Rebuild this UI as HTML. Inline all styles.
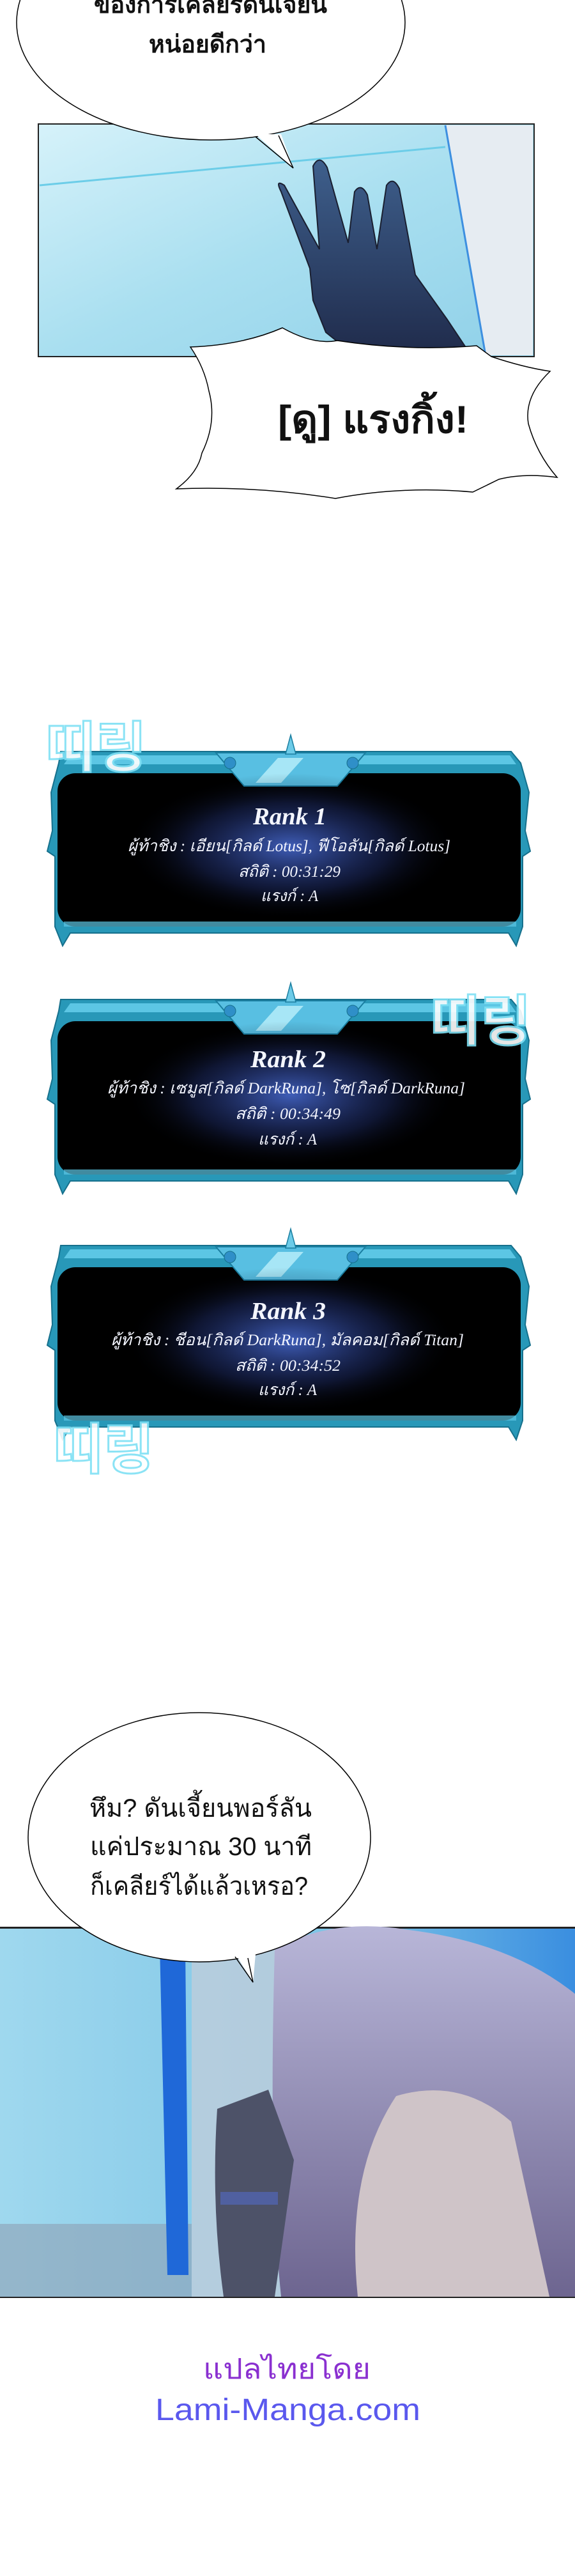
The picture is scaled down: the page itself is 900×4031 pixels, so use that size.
<!DOCTYPE html>
<html><head><meta charset="utf-8"><style>
html,body{margin:0;padding:0;background:#fff;}
svg{display:block;}
.th{font-family:"Liberation Sans","Noto Sans CJK SC","WenQuanYi Zen Hei",sans-serif;}
.rk{font-family:"Liberation Serif","Noto Serif CJK SC",serif;font-style:italic;fill:#f4f6ff;}
</style></head><body>
<svg width="900" height="4031" viewBox="0 0 900 4031" xmlns="http://www.w3.org/2000/svg">
<defs>
<linearGradient id="ice" x1="0" y1="0" x2="1" y2="1">
<stop offset="0" stop-color="#d6f2fa"/><stop offset="0.5" stop-color="#a9dff0"/><stop offset="1" stop-color="#8fd0e8"/></linearGradient>
<linearGradient id="hand" x1="0" y1="0" x2="0" y2="1">
<stop offset="0" stop-color="#3e5f8c"/><stop offset="1" stop-color="#1f2a4a"/></linearGradient>
<radialGradient id="glow" cx="0.5" cy="0.5" r="0.5">
<stop offset="0" stop-color="#4a6ed8" stop-opacity="0.85"/><stop offset="0.6" stop-color="#2a3e90" stop-opacity="0.35"/><stop offset="1" stop-color="#000" stop-opacity="0"/></radialGradient>
<linearGradient id="ice2" x1="0" y1="0" x2="1" y2="0">
<stop offset="0" stop-color="#9fd8ee"/><stop offset="0.6" stop-color="#7cc4e6"/><stop offset="1" stop-color="#3a8ee0"/></linearGradient>
<linearGradient id="hair" x1="0" y1="0" x2="0" y2="1">
<stop offset="0" stop-color="#b8b6d8"/><stop offset="1" stop-color="#6d6590"/></linearGradient>
<g id="frame">
<path d="M95,26 L800,26 L815,44 L828,90 L822,150 L830,182 L818,190 L818,300 L808,330 L796,310 L110,310 L98,330 L86,300 L86,190 L74,182 L82,150 L80,90 L92,44 Z" fill="#2898b8" stroke="#16708c" stroke-width="2"/>
<path d="M110,32 L798,32 L808,46 L100,46 Z" fill="#5cc6e4"/>
<rect x="90" y="60" width="725" height="240" rx="28" fill="#000"/>
<path d="M100,292 L808,292 L808,300 L100,300 Z" fill="#5cc6e4" opacity="0.7"/>
<polygon points="338,28 572,28 528,80 382,80" fill="#58bfe2" stroke="#1a7ea0" stroke-width="2"/>
<polygon points="400,75 435,36 475,36 440,75" fill="#a7e6f6"/>
<polygon points="447,30 455,0 463,30" fill="#6ccbe8" stroke="#1a7ea0" stroke-width="1.5"/>
<circle cx="360" cy="44" r="9" fill="#2f8fc8" stroke="#16708c"/>
<circle cx="552" cy="44" r="9" fill="#2f8fc8" stroke="#16708c"/>
<ellipse cx="455" cy="175" rx="260" ry="115" fill="url(#glow)"/>
</g>
</defs>

<!-- top panel image -->
<rect x="60" y="194" width="776" height="364" fill="url(#ice)" stroke="#222" stroke-width="2"/>
<polygon points="697,196 834,196 834,556 760,556" fill="#e6ecf2"/>
<line x1="697" y1="196" x2="760" y2="556" stroke="#3d8fe0" stroke-width="3"/>
<line x1="62" y1="290" x2="697" y2="230" stroke="#6ccde8" stroke-width="3"/>
<path d="M440,300 Q430,280 445,290 L500,390 L490,260 Q500,240 512,262 L545,380 L555,300 Q565,285 575,305 L590,390 L605,290 Q615,275 625,295 L650,430 L700,500 L740,560 L560,560 L510,520 L490,470 L485,420 L440,300 Z" fill="url(#hand)" stroke="#1a1f30" stroke-width="2"/>
<!-- bubble 1 -->
<ellipse cx="330" cy="35" rx="304" ry="184" fill="#fff" stroke="#000" stroke-width="1.5"/>
<polygon points="400,210 459,263 440,210" fill="#fff"/>
<path d="M400,214 L459,263 L436,212" fill="none" stroke="#000" stroke-width="1.5"/>
<text class="th" x="147" y="20" font-size="38" font-weight="bold" textLength="365" lengthAdjust="spacingAndGlyphs" fill="#111">ของการเคลียร์ดันเจี้ยน</text>
<text class="th" x="233" y="82" font-size="38" font-weight="bold" textLength="184" lengthAdjust="spacingAndGlyphs" fill="#111">หน่อยดีกว่า</text>
<!-- spiky bubble -->
<path d="M298,543 Q380,540 442,513 Q490,540 528,533 Q640,550 746,541 L769,558 Q820,575 861,581 Q820,620 827,663 Q840,710 872,747 Q820,740 781,750 L740,770 Q630,760 525,780 Q400,760 276,765 Q310,740 316,709 Q340,660 327,612 Q320,575 298,543 Z" fill="#fff" stroke="#000" stroke-width="1.5"/>
<text class="th" x="435" y="677" font-size="60" font-weight="bold" textLength="298" lengthAdjust="spacingAndGlyphs" fill="#111">[ดู] แรงกิ้ง!</text>

<!-- rank panels -->
<use href="#frame" x="0" y="1150"/>
<text x="150" y="1200" font-family="'Noto Sans CJK KR',sans-serif" font-size="86" font-weight="bold" text-anchor="middle" fill="#fff" stroke="#7fe0f4" stroke-width="3" opacity="0.9">띠링</text>
<text class="rk" x="396" y="1290" font-size="38" font-weight="bold" textLength="115" lengthAdjust="spacingAndGlyphs">Rank 1</text>
<text class="rk" x="200" y="1332" font-size="25" textLength="505" lengthAdjust="spacingAndGlyphs">ผู้ท้าชิง : เอียน[กิลด์ Lotus], ฟีโอลัน[กิลด์ Lotus]</text>
<text class="rk" x="373" y="1372" font-size="25" textLength="160" lengthAdjust="spacingAndGlyphs">สถิติ : 00:31:29</text>
<text class="rk" x="408" y="1410" font-size="25" textLength="90" lengthAdjust="spacingAndGlyphs">แรงก์ : A</text>

<use href="#frame" x="0" y="1538"/>
<text x="752" y="1628" font-family="'Noto Sans CJK KR',sans-serif" font-size="86" font-weight="bold" text-anchor="middle" fill="#fff" stroke="#7fe0f4" stroke-width="3" opacity="0.9">띠링</text>
<text class="rk" x="392" y="1670" font-size="38" font-weight="bold" textLength="118" lengthAdjust="spacingAndGlyphs">Rank 2</text>
<text class="rk" x="168" y="1711" font-size="25" textLength="560" lengthAdjust="spacingAndGlyphs">ผู้ท้าชิง : เซมูส[กิลด์ DarkRuna], โซ[กิลด์ DarkRuna]</text>
<text class="rk" x="368" y="1751" font-size="25" textLength="165" lengthAdjust="spacingAndGlyphs">สถิติ : 00:34:49</text>
<text class="rk" x="404" y="1791" font-size="25" textLength="92" lengthAdjust="spacingAndGlyphs">แรงก์ : A</text>

<use href="#frame" x="0" y="1923"/>
<text class="rk" x="392" y="2064" font-size="38" font-weight="bold" textLength="118" lengthAdjust="spacingAndGlyphs">Rank 3</text>
<text class="rk" x="174" y="2105" font-size="25" textLength="552" lengthAdjust="spacingAndGlyphs">ผู้ท้าชิง : ชีอน[กิลด์ DarkRuna], มัลคอม[กิลด์ Titan]</text>
<text class="rk" x="368" y="2145" font-size="25" textLength="165" lengthAdjust="spacingAndGlyphs">สถิติ : 00:34:52</text>
<text class="rk" x="404" y="2183" font-size="25" textLength="92" lengthAdjust="spacingAndGlyphs">แรงก์ : A</text>
<text x="162" y="2298" font-family="'Noto Sans CJK KR',sans-serif" font-size="86" font-weight="bold" text-anchor="middle" fill="#fff" stroke="#7fe0f4" stroke-width="3" opacity="0.9">띠링</text>

<!-- bottom panel -->
<rect x="0" y="3015" width="900" height="581" fill="url(#ice2)"/>
<rect x="0" y="3015" width="900" height="3" fill="#222"/>
<rect x="0" y="3594" width="900" height="2" fill="#222"/>
<rect x="0" y="3480" width="300" height="114" fill="#8ea0b4" opacity="0.6"/>
<polygon points="250,3045 290,3045 295,3560 262,3560" fill="#1f68d8"/>
<polygon points="300,3018 430,3018 440,3594 300,3594" fill="#c6cdd8" opacity="0.7"/>
<path d="M430,3050 Q520,3000 640,3020 Q800,3040 900,3120 L900,3594 L440,3594 Q420,3400 430,3050 Z" fill="url(#hair)"/>
<path d="M620,3280 Q720,3250 800,3320 L860,3594 L560,3594 Q540,3400 620,3280 Z" fill="#cfc4c8"/>
<path d="M340,3300 L420,3270 L460,3380 L430,3594 L350,3594 Q330,3450 340,3300 Z" fill="#4d5268"/>
<rect x="345" y="3430" width="90" height="20" fill="#5060a0"/>
<!-- bubble 3 -->
<ellipse cx="312" cy="2875" rx="268" ry="195" fill="#fff" stroke="#000" stroke-width="1.5"/>
<polygon points="370,3060 396,3102 400,3058" fill="#fff"/>
<path d="M368,3062 L396,3102 L388,3064" fill="none" stroke="#000" stroke-width="1.5"/>
<text class="th" x="140" y="2843" font-size="40" textLength="348" lengthAdjust="spacingAndGlyphs" fill="#111">หึม? ดันเจี้ยนพอร์ลัน</text>
<text class="th" x="141" y="2903" font-size="40" textLength="347" lengthAdjust="spacingAndGlyphs" fill="#111">แค่ประมาณ 30 นาที</text>
<text class="th" x="141" y="2965" font-size="40" textLength="341" lengthAdjust="spacingAndGlyphs" fill="#111">ก็เคลียร์ได้แล้วเหรอ?</text>

<!-- credits -->
<text class="th" x="318" y="3722" font-size="44" textLength="262" lengthAdjust="spacingAndGlyphs" fill="#8a30d0">แปลไทยโดย</text>
<text class="th" x="243" y="3787" font-size="48" textLength="415" lengthAdjust="spacingAndGlyphs" fill="#5a58ee">Lami-Manga.com</text>
</svg>
</body></html>
